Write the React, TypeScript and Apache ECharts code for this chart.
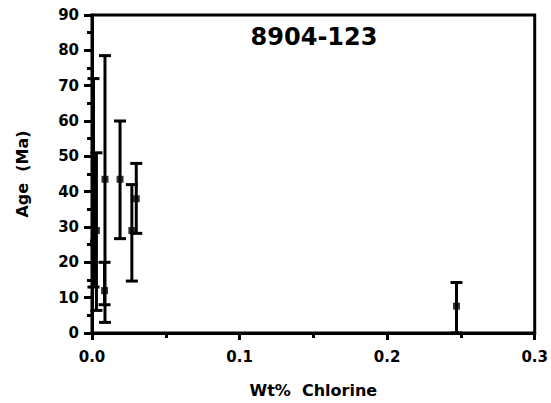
import React, { useEffect, useRef } from "react";
import * as echarts from "echarts";

const chlorine = [0.001, 0.003, 0.0085, 0.0088, 0.019, 0.027, 0.030, 0.247];
const ageMid = [25.5, 29, 12, 43.5, 43.5, 29, 38, 7.6];
const ageLow = [13, 6.4, 8, 3, 26.7, 14.7, 28.2, 0];
const ageHigh = [72, 51, 20, 78.5, 60, 42, 48, 14.3];
const xTicks = ["0.0", "0.1", "0.2", "0.3"];
const chartTitle = "8904-123";
const xName = "Wt%  Chlorine";
const yName = "Age  (Ma)";

export default function App() {
  const ref = useRef<HTMLDivElement>(null);
  useEffect(() => {
    if (!ref.current) return;
    const chart = echarts.init(ref.current, null, { renderer: "svg" });
    const font = "'DejaVu Sans', sans-serif";
    const errData = chlorine.map((x, i) => [x, ageLow[i], ageHigh[i]]);
    const ptData = chlorine.map((x, i) => [x, ageMid[i]]);
    chart.setOption({
      animation: false,
      backgroundColor: "#fff",
      title: {
        text: chartTitle,
        left: 309,
        top: 20,
        textAlign: "center",
        textStyle: { fontFamily: font, fontWeight: "bold", fontSize: 24, color: "#000" },
      },
      grid: {
        left: 92,
        right: 12,
        top: 15,
        bottom: 70,
        show: true,
        borderColor: "#000",
        borderWidth: 3,
        backgroundColor: "transparent",
      },
      xAxis: {
        type: "value",
        min: 0,
        max: 0.3,
        interval: 0.1,
        name: xName,
        nameLocation: "middle",
        nameGap: 49,
        nameTextStyle: { fontFamily: font, fontWeight: "bold", fontSize: 16, color: "#000" },
        axisLine: { show: true, lineStyle: { color: "#000", width: 3 } },
        axisTick: { show: true, length: 7, lineStyle: { color: "#000", width: 3 } },
        minorTick: { show: true, splitNumber: 2, length: 5, lineStyle: { color: "#000", width: 3 } },
        splitLine: { show: false },
        axisLabel: {
          fontFamily: font,
          fontWeight: "bold",
          fontSize: 15,
          color: "#000",
          margin: 16,
          formatter: (v: number) => xTicks[Math.round(v * 10)] ?? "",
        },
      },
      yAxis: {
        type: "value",
        min: 0,
        max: 90,
        interval: 10,
        name: yName,
        nameLocation: "middle",
        nameGap: 62,
        nameRotate: 90,
        nameTextStyle: { fontFamily: font, fontWeight: "bold", fontSize: 16, color: "#000" },
        axisLine: { show: true, lineStyle: { color: "#000", width: 3 } },
        axisTick: { show: true, length: 8, lineStyle: { color: "#000", width: 3 } },
        minorTick: { show: true, splitNumber: 2, length: 5, lineStyle: { color: "#000", width: 3 } },
        splitLine: { show: false },
        axisLabel: { fontFamily: font, fontWeight: "bold", fontSize: 15, color: "#000", margin: 13 },
      },
      series: [
        {
          type: "custom",
          data: errData,
          renderItem: (params: any, api: any) => {
            const x = api.value(0);
            const lo = api.coord([x, api.value(1)]);
            const hi = api.coord([x, api.value(2)]);
            const hw = 6;
            const st = { stroke: "#000", lineWidth: 3 };
            return {
              type: "group",
              children: [
                { type: "line", shape: { x1: lo[0], y1: lo[1], x2: hi[0], y2: hi[1] }, style: st },
                { type: "line", shape: { x1: hi[0] - hw, y1: hi[1], x2: hi[0] + hw, y2: hi[1] }, style: st },
                { type: "line", shape: { x1: lo[0] - hw, y1: lo[1], x2: lo[0] + hw, y2: lo[1] }, style: st },
              ],
            };
          },
          z: 3,
        },
        {
          type: "scatter",
          data: ptData,
          symbol: "rect",
          symbolSize: 7,
          itemStyle: { color: "#000" },
          z: 4,
        },
      ],
    });
    return () => chart.dispose();
  }, []);
  return <div ref={ref} style={{ width: 551, height: 403, position: "absolute", left: 0, top: 0 }} />;
}
